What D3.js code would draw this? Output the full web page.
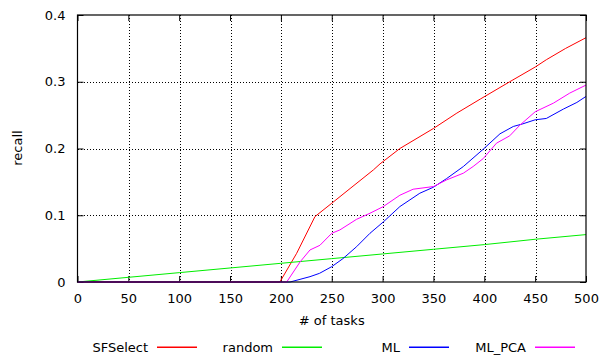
<!DOCTYPE html>
<html>
<head>
<meta charset="utf-8">
<script src="https://cdn.jsdelivr.net/npm/d3@7"></script>
<style>
  body { margin: 0; background: #fff; }
  text { font-family: "DejaVu Sans", sans-serif; font-size: 13px; fill: #000; }
  .grid line { stroke: #000; stroke-dasharray: 1,2; shape-rendering: crispEdges; }
</style>
</head>
<body>
<div id="chart"></div>
<script>
// values
const xTicks = [0, 50, 100, 150, 200, 250, 300, 350, 400, 450, 500];
const yTicks = [0, 0.1, 0.2, 0.3, 0.4];

const sfX = [0, 199, 215.5, 233.5, 250, 268, 291, 297.5, 317, 350, 373, 396, 425, 450, 461, 480, 500];
const sfY = [0, 0, 0.043, 0.098, 0.118, 0.140, 0.168, 0.177, 0.200, 0.230, 0.253, 0.274, 0.300, 0.322, 0.333, 0.350, 0.366];

const rndX = [0, 50, 100, 150, 200, 250, 300, 350, 400, 450, 500];
const rndY = [0, 0.007, 0.014, 0.021, 0.028, 0.035, 0.042, 0.049, 0.056, 0.064, 0.071];

const mlX = [0, 209, 228.6, 238, 250, 261, 274.5, 287.6, 300.7, 317, 336.6, 350, 363, 379.4, 399, 415.4, 428.5, 438, 450, 461, 477.7, 491, 500];
const mlY = [0, 0, 0.008, 0.013, 0.023, 0.035, 0.053, 0.073, 0.090, 0.113, 0.133, 0.142, 0.155, 0.173, 0.199, 0.222, 0.233, 0.237, 0.243, 0.245, 0.259, 0.269, 0.278];

const pcaX = [0, 205.7, 218.8, 228.6, 238.4, 250, 258, 274.5, 287.6, 300.7, 317, 330, 350, 363, 379.4, 389, 399, 412, 425, 435, 450, 468, 484, 500];
const pcaY = [0, 0, 0.030, 0.048, 0.055, 0.073, 0.078, 0.094, 0.103, 0.113, 0.130, 0.139, 0.143, 0.153, 0.163, 0.173, 0.185, 0.208, 0.219, 0.235, 0.255, 0.268, 0.283, 0.295];

const seriesNames = ["SFSelect", "random", "ML", "ML_PCA"];
const seriesColors = ["#ff0000", "#00ee00", "#0000ff", "#ff00ff"];

const series = [
  {name: seriesNames[0], color: seriesColors[0], values: sfX.map((x, i) => [x, sfY[i]])},
  {name: seriesNames[1], color: seriesColors[1], values: rndX.map((x, i) => [x, rndY[i]])},
  {name: seriesNames[2], color: seriesColors[2], values: mlX.map((x, i) => [x, mlY[i]])},
  {name: seriesNames[3], color: seriesColors[3], values: pcaX.map((x, i) => [x, pcaY[i]])}
];

const W = 607, H = 356;
const margin = {top: 15, right: 21, bottom: 74, left: 77.5};
const width = W - margin.left - margin.right;
const height = H - margin.top - margin.bottom;

const svg = d3.select("#chart").append("svg").attr("width", W).attr("height", H);
const g = svg.append("g").attr("transform", "translate(" + [margin.left, margin.top] + ")");

const xScale = d3.scaleLinear().domain([0, 500]).range([0, width]);
const yScale = d3.scaleLinear().domain([0, 0.4]).range([height, 0]);

// grid
const grid = g.append("g").attr("class", "grid");
grid.selectAll(".gx").data(xTicks.slice(1, -1)).enter().append("line")
    .attr("x1", d => Math.round(xScale(d)) + 0.5).attr("x2", d => Math.round(xScale(d)) + 0.5)
    .attr("y1", 0).attr("y2", height);
grid.selectAll(".gy").data(yTicks.slice(1, -1)).enter().append("line")
    .attr("x1", 0).attr("x2", width)
    .attr("y1", d => Math.round(yScale(d)) + 0.5).attr("y2", d => Math.round(yScale(d)) + 0.5);

// axes (gnuplot style: inward ticks, mirrored)
const fmtY = d => d === 0 ? "0" : d3.format(".1f")(d);
const xAxis = d3.axisBottom(xScale).tickValues(xTicks).tickSizeInner(-6).tickSizeOuter(0).tickPadding(12);
const yAxis = d3.axisLeft(yScale).tickValues(yTicks).tickFormat(fmtY).tickSizeInner(-6).tickSizeOuter(0).tickPadding(12);
const xTop = d3.axisTop(xScale).tickValues(xTicks).tickSizeInner(-6).tickSizeOuter(0).tickFormat("");
const yRight = d3.axisRight(yScale).tickValues(yTicks).tickSizeInner(-6).tickSizeOuter(0).tickFormat("");

g.append("g").attr("transform", "translate(0," + height + ")").call(xAxis);
g.append("g").call(yAxis);
g.append("g").call(xTop);
g.append("g").attr("transform", "translate(" + width + ",0)").call(yRight);
g.selectAll(".domain").remove();
g.selectAll(".tick text").style("font-family", "DejaVu Sans").style("font-size", "13px");

// lines
const line = d3.line().x(d => xScale(d[0])).y(d => yScale(d[1]));
g.selectAll(".series").data(series).enter().append("path")
    .attr("class", "series")
    .attr("d", d => line(d.values))
    .attr("fill", "none")
    .attr("stroke", d => d.color)
    .attr("stroke-width", 1);

// frame
g.append("rect").attr("x", 0).attr("y", 0).attr("width", width).attr("height", height)
    .attr("fill", "none").attr("stroke", "#000").attr("stroke-width", 1.2);

// axis titles
svg.append("text").attr("x", margin.left + width / 2).attr("y", 325).attr("text-anchor", "middle").text("# of tasks");
svg.append("text").attr("transform", "translate(22,148) rotate(-90)").attr("text-anchor", "middle").text("recall");

// legend
const legendTextEnd = [148, 273, 400, 526];
const legend = svg.append("g").attr("class", "legend");
series.forEach((s, i) => {
  legend.append("text")
      .attr("x", legendTextEnd[i]).attr("y", 347)
      .attr("text-anchor", "end").attr("dy", "0.35em")
      .text(s.name);
  legend.append("rect")
      .attr("x", legendTextEnd[i] + 9).attr("y", 346.5)
      .attr("width", 40).attr("height", 1.5)
      .attr("fill", s.color);
});
</script>
</body>
</html>
